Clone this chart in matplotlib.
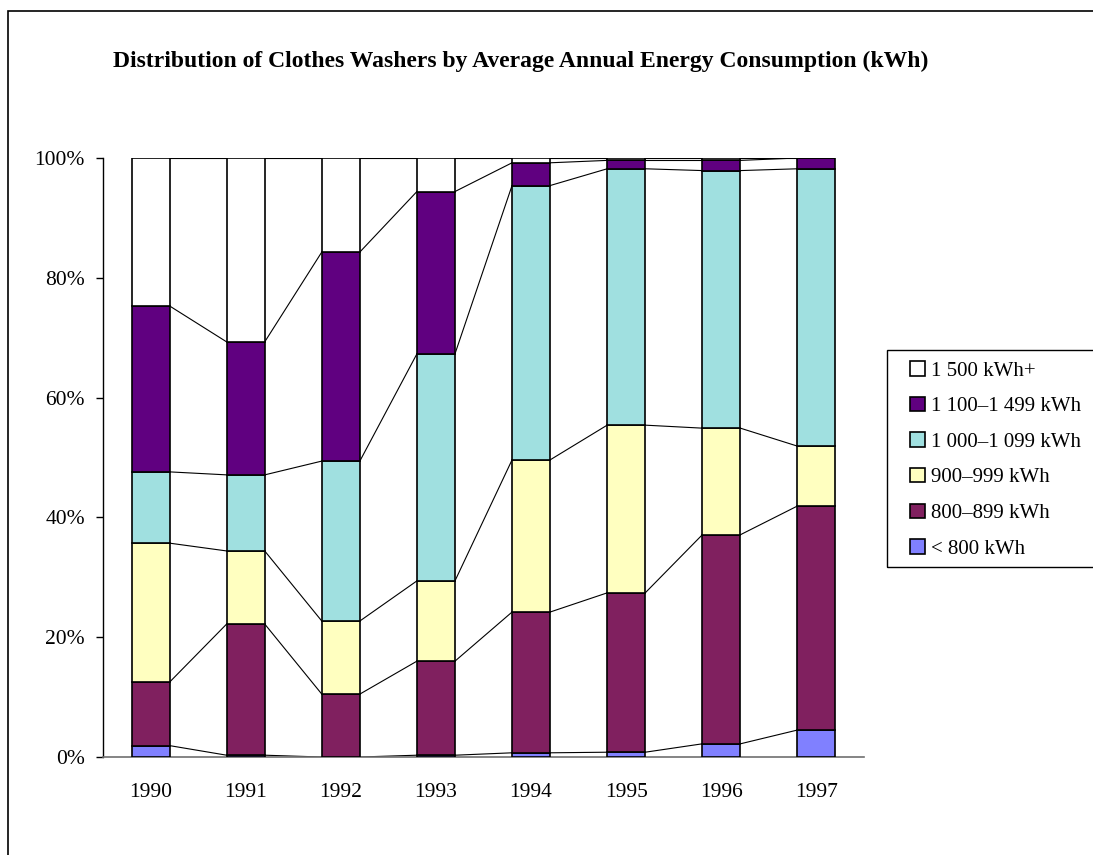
import matplotlib.pyplot as plt
import numpy as np
from matplotlib.patches import Rectangle

years = ["1990", "1991", "1992", "1993", "1994", "1995", "1996", "1997"]
labels = ["< 800 kWh", "800\u2013899 kWh", "900\u2013999 kWh",
          "1 000\u20131 099 kWh", "1 100\u20131 499 kWh", "1 500 kWh+"]
colors = ["#8080FF", "#80205F", "#FFFFC0", "#A0E0E0", "#600080", "#FFFFFF"]

# shares in percent, bottom to top
under_800 = [1.9, 0.3, 0.0, 0.3, 0.7, 0.8, 2.2, 4.5]
kwh_800_899 = [10.6, 21.9, 10.5, 15.7, 23.5, 26.6, 34.9, 37.4]
kwh_900_999 = [23.2, 12.2, 12.2, 13.4, 25.4, 28.0, 17.8, 10.0]
kwh_1000_1099 = [11.9, 12.7, 26.7, 37.9, 45.8, 42.8, 43.0, 46.3]
kwh_1100_1499 = [27.7, 22.2, 34.9, 27.1, 3.8, 1.4, 1.7, 1.8]
kwh_1500_plus = [24.7, 30.7, 15.7, 5.6, 0.8, 0.4, 0.4, 0.0]

series = [under_800, kwh_800_899, kwh_900_999, kwh_1000_1099, kwh_1100_1499, kwh_1500_plus]

plt.rcParams['font.family'] = ['Liberation Serif', 'DejaVu Serif']

fig = plt.figure(figsize=(10.93, 8.55), dpi=100)
ax = fig.add_axes([103 / 1093, 1 - 757 / 855, 761 / 1093, 599 / 855])

x = np.arange(len(years))
w = 0.4
bottom = np.zeros(len(years))
for vals, lab, col in zip(series, labels, colors):
    vals = np.array(vals)
    ax.bar(x, vals, w, bottom=bottom, color=col, edgecolor="black", linewidth=1.2,
           label=lab, zorder=3)
    bottom = bottom + vals
    # series lines between bars
    for i in range(len(years) - 1):
        ax.plot([x[i] + w / 2, x[i + 1] - w / 2], [bottom[i], bottom[i + 1]],
                color="black", linewidth=0.8, zorder=2)

ax.set_xlim(-0.5, len(years) - 0.5)
ax.set_ylim(0, 100)
ax.set_yticks([0, 20, 40, 60, 80, 100])
ax.set_yticklabels(["0%", "20%", "40%", "60%", "80%", "100%"], fontsize=15.5)
ax.set_xticks(x)
ax.set_xticklabels(years, fontsize=15.5)
ax.tick_params(axis="x", length=0, pad=19)
ax.tick_params(axis="y", length=5, width=1, pad=8, direction="out")
for s in ["top", "right"]:
    ax.spines[s].set_visible(False)
ax.spines["left"].set_linewidth(1)
ax.spines["bottom"].set_color("#707070")
ax.spines["bottom"].set_linewidth(1.2)

fig.text(113 / 1093, 1 - 61 / 855,
         "Distribution of Clothes Washers by Average Annual Energy Consumption (kWh)",
         fontsize=17, fontweight="bold", va="center", ha="left")

handles, labs = ax.get_legend_handles_labels()
fig.legend(handles[::-1], labs[::-1],
           bbox_to_anchor=(910 / 1093, 1 - 361 / 855),
           loc="upper left", fontsize=15, frameon=False,
           handlelength=0.7, handleheight=0.7, handletextpad=0.3,
           labelspacing=0.77, borderpad=0, borderaxespad=0)

# legend box, runs off the right edge like the reference
fig.patches.append(Rectangle((887 / 1093, 1 - 567 / 855), 0.3, 217 / 855,
                             transform=fig.transFigure, fill=False,
                             edgecolor="black", linewidth=1))

# outer chart frame (runs off the right and bottom of the picture)
fig.patches.append(Rectangle((8 / 1093, -0.1), 1.2, 1 - 11 / 855 + 0.1,
                             transform=fig.transFigure, fill=False,
                             edgecolor="black", linewidth=1.2))

fig.savefig("out.png", dpi=100)
